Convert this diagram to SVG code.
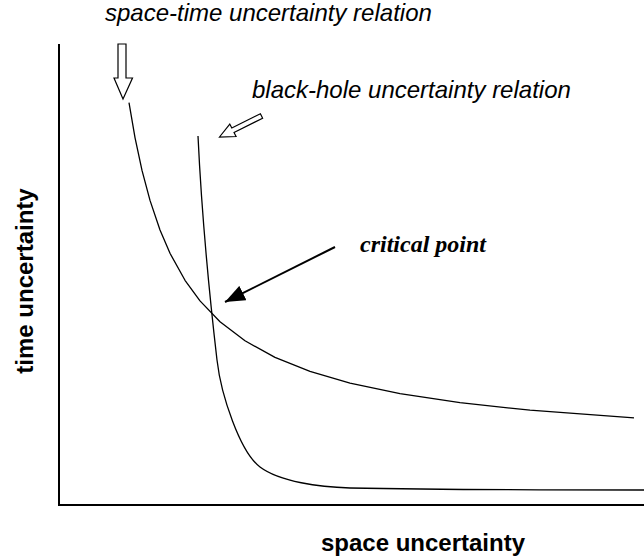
<svg xmlns="http://www.w3.org/2000/svg" width="644" height="559" viewBox="0 0 644 559">
<style>
.ax{stroke:#000;stroke-width:2;fill:none}
.cv{stroke:#000;stroke-width:1.3;fill:none;stroke-linejoin:round}
.hollow{fill:#fff;stroke:#000;stroke-width:1.2}
.lab{font-family:"Liberation Sans",Arial,sans-serif;font-size:24px;fill:#000}
.it{font-style:italic}
.b{font-weight:bold}
.crit{font-family:"Liberation Serif","Times New Roman",serif;font-size:24px;font-weight:bold;font-style:italic;fill:#000}
</style>
<defs>
<marker id="ah" viewBox="0 0 20 16" refX="20" refY="8" markerWidth="20" markerHeight="16" markerUnits="userSpaceOnUse" orient="auto">
<path d="M0,0 L20,8 L0,16 Z" fill="#000"/>
</marker>
</defs>
<g id="axes">
<line class="ax" x1="59" y1="44" x2="59" y2="505"/>
<line class="ax" x1="58" y1="505" x2="644" y2="505"/>
</g>
<g id="spacetime-curve">
<polyline class="cv" points="129,102.7 135,137.6 142,170.4 150,200.4 160,230 170,253.3 185,280.3 200,300.9 220,321.7 245,340.8 275,357.4 310,371.4 350,383.1 400,393.6 460,402.7 530,410.2 634,417.9"/>
</g>
<g id="blackhole-curve">
<path class="cv" d="M198,136 C202,220 210,300 217,360 C221,395 240,452 260,467 C280,482 320,487 350,488 C450,490 550,490 644,490"/>
</g>
<g id="connectors">
<polygon id="st-arrow" class="hollow" points="118,44 126,44 126,78 132.5,78 123,99 114,78 118,78"/>
<polygon id="bh-arrow" class="hollow" transform="translate(219.5,137) rotate(-26.6)" points="0,0 15,-7 15,-2.5 47,-2.5 47,2.5 15,2.5 15,7"/>
<line id="crit-arrow" x1="335" y1="247" x2="225" y2="302" stroke="#000" stroke-width="2" marker-end="url(#ah)"/>
</g>
<g id="label-spacetime"><text class="lab it" x="105" y="20.5">space-time uncertainty relation</text></g>
<g id="label-blackhole"><text class="lab it" x="252" y="98">black-hole uncertainty relation</text></g>
<g id="label-critical"><text class="crit" x="360" y="251.5">critical point</text></g>
<g id="label-time"><text class="lab b" text-anchor="middle" transform="translate(33,281) rotate(-90)">time uncertainty</text></g>
<g id="label-space"><text class="lab b" text-anchor="middle" x="423" y="551">space uncertainty</text></g>
</svg>
